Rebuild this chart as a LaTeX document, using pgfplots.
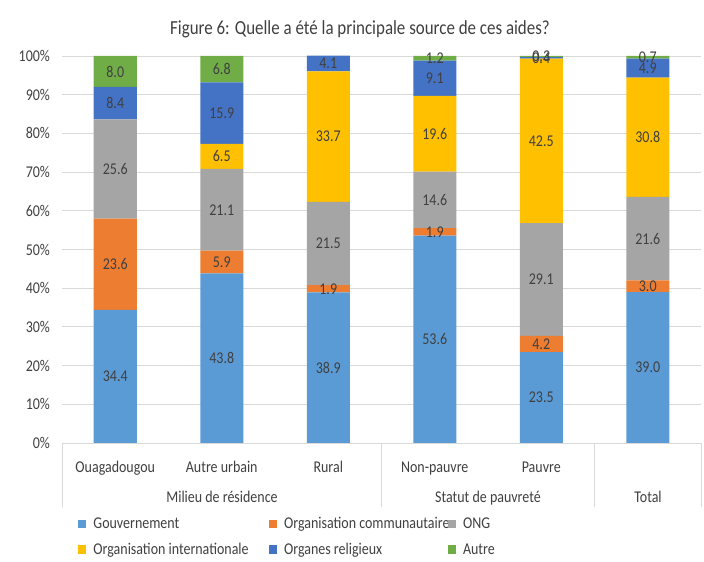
\documentclass[border=0pt]{standalone}
\usepackage{pgfplots}
\usepackage{pgfplotstable}
\pgfplotsset{compat=1.18}
\usepackage{fontspec}
\setmainfont{Carlito}[FakeStretch=0.85]
\definecolor{cGov}{HTML}{5B9BD5}
\definecolor{cOC}{HTML}{ED7D31}
\definecolor{cONG}{HTML}{A5A5A5}
\definecolor{cOI}{HTML}{FFC000}
\definecolor{cOR}{HTML}{4472C4}
\definecolor{cAut}{HTML}{70AD47}
\definecolor{txt}{HTML}{404040}
\definecolor{gridc}{HTML}{D9D9D9}
\pgfplotstableread{
x gov oc ong oi orl aut
0 34.4 23.6 25.6 0.0 8.4 8.0
1 43.8 5.9 21.1 6.5 15.9 6.8
2 38.9 1.9 21.5 33.7 4.1 0.0
3 53.6 1.9 14.6 19.6 9.1 1.2
4 23.5 4.2 29.1 42.5 0.4 0.3
5 39.0 3.0 21.6 30.8 4.9 0.7
}\datatable
\newcommand{\fs}{\fontsize{16.5}{19}\selectfont}
\begin{document}
\begin{tikzpicture}[x=1bp,y=1bp]
\useasboundingbox (-62,-119) rectangle (642,443);
\begin{axis}[
  at={(0,0)}, anchor=south west,
  scale only axis, width=639bp, height=387bp,
  ybar stacked, bar width=43bp,
  xmin=-0.5, xmax=5.5, ymin=0, ymax=100,
  clip=false,
  xtick={0,...,5},
  xticklabels={Ouagadougou,Autre urbain,Rural,Non-pauvre,Pauvre,{}},
  ytick={0,10,...,100},
  yticklabel={\pgfmathprintnumber{\tick}\%},
  /pgf/number format/assume math mode=true,
  axis line style={draw=none},
  major tick length=0pt,
  ymajorgrids, grid style={gridc, line width=0.9pt},
  ticklabel style={font=\fs, text=txt},
  xticklabel style={anchor=base, yshift=-30bp},
  yticklabel style={xshift=-8.5bp},
  point meta=explicit,
  nodes near coords={\pgfmathprintnumber[fixed,fixed zerofill,precision=1,assume math mode=true]{\pgfplotspointmeta}},
  every node near coord/.append style={anchor=center, font=\fs, text=txt},
  legend columns=3,
  legend cell align=left,
  legend style={at={(0.025,-0.187)}, anchor=north west, draw=none, fill=none,
    inner sep=0pt, outer sep=0pt,
    font=\fs, text=txt,
    /tikz/column 1/.style={column sep=5bp},
    /tikz/column 2/.style={column sep=18bp},
    /tikz/column 3/.style={column sep=5bp},
    /tikz/column 4/.style={column sep=-4bp},
    /tikz/column 5/.style={column sep=5bp},
    row sep=9bp},
  legend image code/.code={\fill[#1] (0bp,-4.25bp) rectangle (8.5bp,4.25bp);},
]
\addplot+[fill=cGov, draw=none] table[x=x, y=gov, meta=gov] {\datatable};
\addplot+[fill=cOC, draw=none] table[x=x, y=oc, meta=oc] {\datatable};
\addplot+[fill=cONG, draw=none] table[x=x, y=ong, meta=ong] {\datatable};
\addplot+[fill=cOI, draw=none] table[x=x, y=oi, meta=oi] {\datatable};
\addplot+[fill=cOR, draw=none] table[x=x, y=orl, meta=orl] {\datatable};
\addplot+[fill=cAut, draw=none] table[x=x, y=aut, meta=aut] {\datatable};
\legend{Gouvernement, Organisation communautaire, ONG, Organisation internationale, Organes religieux, Autre}
\end{axis}
\draw[gridc, line width=0.9pt] (0,0) -- (0,-64) (319.5,0) -- (319.5,-64) (532.5,0) -- (532.5,-64) (639,0) -- (639,-64);
\node[font=\fs, text=txt, anchor=base] at (160,-60) {Milieu de résidence};
\node[font=\fs, text=txt, anchor=base] at (426,-60) {Statut de pauvreté};
\node[font=\fs, text=txt, anchor=base] at (586,-60) {Total};
\node[font=\fontsize{20}{24}\selectfont, text=txt, anchor=base] at (298,408) {Figure 6: Quelle a été la principale source de ces aides?};
\end{tikzpicture}
\end{document}
